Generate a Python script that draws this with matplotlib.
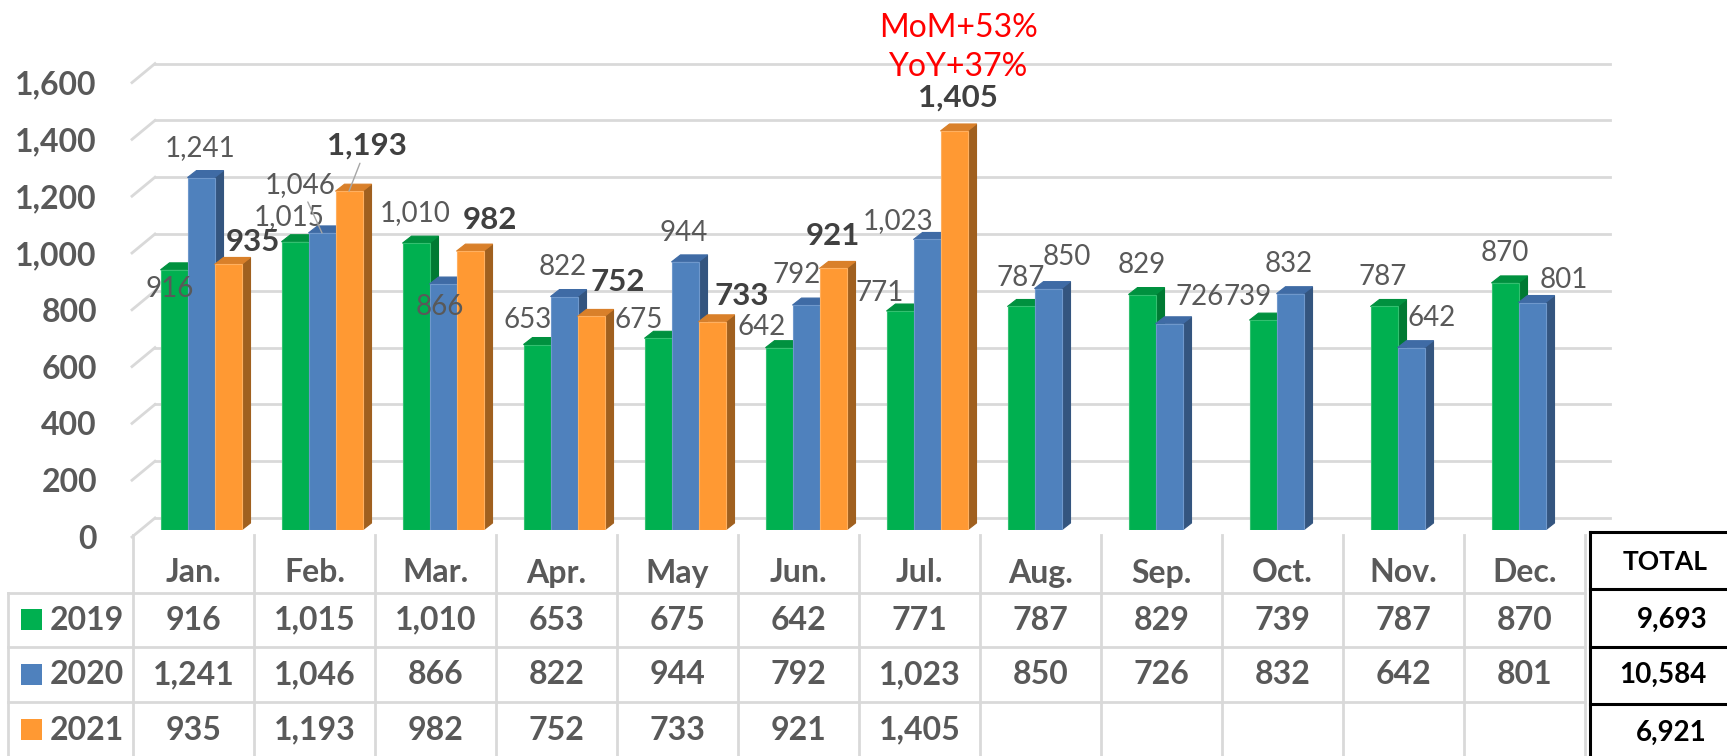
import matplotlib
matplotlib.use('Agg')
import matplotlib.pyplot as plt
from matplotlib.patches import Polygon, Rectangle
from matplotlib.lines import Line2D
from matplotlib import transforms

plt.rcParams['font.family'] = ['Lato', 'DejaVu Sans']

months = ['Jan.', 'Feb.', 'Mar.', 'Apr.', 'May', 'Jun.', 'Jul.',
          'Aug.', 'Sep.', 'Oct.', 'Nov.', 'Dec.']
years = ['2019', '2020', '2021']
v2019 = [916, 1015, 1010, 653, 675, 642, 771, 787, 829, 739, 787, 870]
v2020 = [1241, 1046, 866, 822, 944, 792, 1023, 850, 726, 832, 642, 801]
v2021 = [935, 1193, 982, 752, 733, 921, 1405]
totals = ['9,693', '10,584', '6,921']
yticks = [0, 200, 400, 600, 800, 1000, 1200, 1400, 1600]
note_lines = ['MoM+53%', 'YoY+37%']

# label offsets (pixels, image direction) from bar top centre
off2019 = [(-4, 19), (-6, -25), (-1, -30), (-9, -25), (-19, -18), (-17, -21),
           (-20, -18), (0, -28), (0, -30), (-15, -23), (-1, -29), (0, -30)]
off2020 = [(-1, -30), (-22, -48), (-3, 23), (-1, -30), (-1, -29), (-9, -30),
           (-29, -18), (19, -32), (31, -27), (-1, -30), (21, -30), (32, -23)]
off2021 = [(25, -22), (18, -46), (20, -31), (27, -34), (30, -26), (0, -32), (4, -33)]

W, H = 1727, 756
fig = plt.figure(figsize=(W / 100, H / 100), dpi=100)
base = 530          # pixel row of bar base
pxy = 0.284         # pixels per unit
ux = 1 / 121.0      # data x per pixel
uy = 1 / pxy        # data y per pixel

ax = fig.add_axes([133 / W, (H - base) / H, 1452 / W, base / H])
ax.set_xlim(-0.5, 11.5)
ax.set_ylim(0, base / pxy)
for s in ax.spines.values():
    s.set_visible(False)
ax.set_xticks([])

# y axis labels (front plane, a bit below bar plane)
ax.set_yticks(yticks)
ax.set_yticklabels([f'{t:,}' for t in yticks], fontsize=23, fontweight='bold', color='#595959')
ax.tick_params(axis='y', length=0, pad=26)
for lab in ax.get_yticklabels():
    lab.set_transform(lab.get_transform() + transforms.ScaledTranslation(0, -7 / 100, fig.dpi_scale_trans))

# back wall gridlines + side diagonals
grid_c = '#d9d9d9'
for v in yticks:
    yb = v + 12 * uy
    ax.plot([-0.5 + 22 * ux, -0.5 + 1477 * ux], [yb, yb], color=grid_c, lw=2, zorder=1, clip_on=False)
    ax.plot([-0.5 - 1 * ux, -0.5 + 22 * ux], [v - 7 * uy, yb], color=grid_c, lw=2, zorder=1, clip_on=False)

bw = 27 * ux
ddx, ddy = 9 * ux, 7 * uy
series = [
    (v2019, '#00B050', '#00913F', '#007A33', '#33C070', off2019, 20, 'normal', '#595959'),
    (v2020, '#4F81BD', '#3F6BA5', '#34557F', '#6F98CC', off2020, 20, 'normal', '#595959'),
    (v2021, '#FF9933', '#D9802A', '#A0601F', '#FFB060', off2021, 22.5, 'bold', '#404040'),
]
for k, (vals, face, top, side, edge, offs, fs, fw, tc) in enumerate(series):
    for i, v in enumerate(vals):
        xl = i - 33 * ux + k * bw
        z = 3 + k
        ax.add_patch(Polygon([(xl + bw, 0), (xl + bw, v), (xl + bw + ddx, v + ddy), (xl + bw + ddx, ddy)],
                             closed=True, facecolor=side, edgecolor=side, lw=0.8, zorder=z))
        ax.add_patch(Polygon([(xl, v), (xl + bw, v), (xl + bw + ddx, v + ddy), (xl + ddx, v + ddy)],
                             closed=True, facecolor=top, edgecolor=top, lw=0.8, zorder=z))
        ax.bar(xl, v, width=bw, align='edge', color=face, edgecolor=edge, lw=0.8, zorder=z)
        dx, dy = offs[i]
        lead = (k == 1 and i == 1) or (k == 2 and i == 1)
        ax.annotate(f'{v:,}', xy=(xl + bw / 2, v), xytext=(dx, -dy), textcoords='offset pixels',
                    ha='center', va='center', fontsize=fs, fontweight=fw, color=tc, zorder=10,
                    arrowprops=dict(arrowstyle='-', color='#a6a6a6', lw=1, shrinkA=1, shrinkB=0) if lead else None)

# red note above July 2021
jx = 6 - 33 * ux + 2 * bw + bw / 2
for txt, dy in zip(note_lines, [-103, -64]):
    ax.annotate(txt, xy=(jx, v2021[6]), xytext=(4, -dy), textcoords='offset pixels',
                ha='center', va='center', fontsize=23, color='#FF0000', zorder=10)

# data table
tr = transforms.blended_transform_factory(ax.transData, fig.transFigure)


def fy(py):
    return 1 - py / H


for i in range(13):
    fig.add_artist(Line2D([i - 0.5, i - 0.5], [fy(535), 0], transform=tr, color=grid_c, lw=2))
for py in [593, 647, 702]:
    fig.add_artist(Line2D([8 / W, 1585 / W], [fy(py), fy(py)], transform=fig.transFigure, color=grid_c, lw=2))
fig.add_artist(Line2D([8 / W, 8 / W], [fy(593), 0], transform=fig.transFigure, color=grid_c, lw=2))

for i, m in enumerate(months):
    fig.text(i, fy(573), m, transform=tr, ha='center', va='center', fontsize=23,
             fontweight='bold', color='#595959')

row_y = [620, 675, 730]
cols = ['#00B050', '#4F81BD', '#FF9933']
for r, vals in enumerate([v2019, v2020, v2021]):
    yc = row_y[r]
    fig.add_artist(Rectangle((21 / W, fy(yc + 10)), 21 / W, 21 / H, transform=fig.transFigure,
                             facecolor=cols[r], edgecolor='none'))
    fig.text(50 / W, fy(yc), years[r], ha='left', va='center', fontsize=23,
             fontweight='bold', color='#595959')
    for i, v in enumerate(vals):
        fig.text(i, fy(yc), f'{v:,}', transform=tr, ha='center', va='center', fontsize=23,
                 fontweight='bold', color='#595959')

# total box
for py in [532, 589, 647, 704]:
    fig.add_artist(Line2D([1590 / W, 1], [fy(py), fy(py)], transform=fig.transFigure, color='black', lw=2.2))
fig.add_artist(Line2D([1590 / W, 1590 / W], [fy(532), 0], transform=fig.transFigure, color='black', lw=2.2))
fig.text(1665 / W, fy(562), 'TOTAL', ha='center', va='center', fontsize=19, fontweight='bold', color='black')
for t, yc in zip(totals, [620, 675, 733]):
    fig.text(1707 / W, fy(yc), t, ha='right', va='center', fontsize=20, fontweight='bold', color='black')

fig.savefig('out.png', dpi=100)
